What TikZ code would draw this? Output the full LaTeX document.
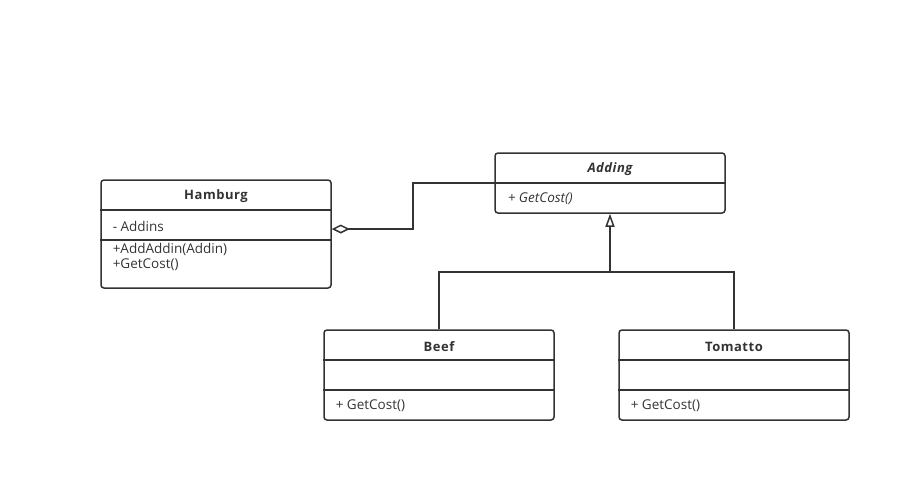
\documentclass[tikz,border=0pt]{standalone}
\usepackage{fontspec}
\setmainfont{Open Sans}
\newfontfamily\titlefont[LetterSpace=4]{Open Sans}
\usetikzlibrary{arrows.meta}
\definecolor{ink}{HTML}{333333}

\begin{document}
\begin{tikzpicture}[x=1pt,y=-1pt,line width=1.5pt,draw=ink,text=ink,
  classbox/.style={draw,rounded corners=3pt,minimum width=230pt,inner sep=0pt},
  cname/.style={font=\fontsize{13}{15}\titlefont\bfseries},
  member/.style={anchor=west,inner sep=0pt,font=\fontsize{13.5}{15}\selectfont}]
\useasboundingbox (0,0) rectangle (911,482);
%classes
\node[classbox,minimum height=108pt] (ham) at (216,234) {};
\node[classbox,minimum height=60pt] (add) at (610,183) {};
\node[classbox,minimum height=90pt] (beef) at (439,375) {};
\node[classbox,minimum height=90pt] (tom) at (734,375) {};
%dividers
\draw (ham.west |- 0,210) -- (ham.east |- 0,210);
\draw (ham.west |- 0,240) -- (ham.east |- 0,240);
\draw (add.west |- 0,183) -- (add.east |- 0,183);
\draw (beef.west |- 0,360) -- (beef.east |- 0,360);
\draw (beef.west |- 0,390) -- (beef.east |- 0,390);
\draw (tom.west |- 0,360) -- (tom.east |- 0,360);
\draw (tom.west |- 0,390) -- (tom.east |- 0,390);
%texts
\node[cname] (hamname) at (216,196.5) {Hamburg};
\node[member] (hamattr) at (112,226) {- Addins};
\node[member] (hamop1) at (112,249) {+AddAddin(Addin)};
\node[member] (hamop2) at (112,265) {+GetCost()};
\node[cname,font=\fontsize{13}{15}\titlefont\bfseries\itshape] (addname) at (610,169.5) {Adding};
\node[member,font=\fontsize{13.5}{15}\selectfont\itshape] (addop) at (507,199) {+ GetCost()};
\node[cname] (beefname) at (439,346.5) {Beef};
\node[member] (beefop) at (335,406) {+ GetCost()};
\node[cname] (tomname) at (734,346.5) {Tomatto};
\node[member] (tomop) at (630,406) {+ GetCost()};
%aggregation
\draw[{Diamond[open,length=18pt,width=9pt]}-] ([yshift=5pt]ham.east) -| (413,183) -- (add.west);
%inheritance
\coordinate (hub) at (610,272);
\draw[-{Triangle[open,length=13pt,width=9pt]}] (hub) -- (add.south);
\draw (beef.north) |- (hub) -| (tom.north);
\end{tikzpicture}
\end{document}
